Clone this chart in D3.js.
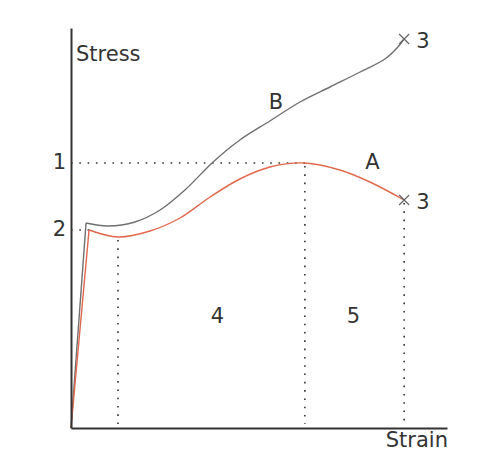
<!DOCTYPE html>
<html>
<head>
<meta charset="utf-8">
<script src="https://cdn.jsdelivr.net/npm/d3@7"></script>
<style>
  html, body { margin: 0; padding: 0; background: #fff; }
  svg text { font-family: "DejaVu Sans", sans-serif; fill: #333; }
</style>
</head>
<body>
<svg id="chart" width="482" height="466"></svg>
<script>
// Curve A (engineering stress: yield drop, hardening, necking) — [strain, stress], normalised units
const curveA = [
  [0, 0], [4.8, 49.5], [12.5, 47.75], [21.0, 49.25], [29.0, 52.5], [37.0, 57.75],
  [44.9, 62.25], [52.9, 65.25], [62.2, 66.25], [71.5, 64.5], [79.5, 61.5], [88.6, 57]
];
// Curve B (true stress)
const curveB = [
  [0, 0], [4.0, 51.25], [9.8, 50.5], [17.0, 51.5], [23.7, 54.5], [30.3, 59.5],
  [37.8, 66.5], [44.9, 72], [52.9, 76.75], [60.9, 81.5], [68.9, 85.25],
  [76.9, 89], [83.5, 92.25], [86.7, 95], [88.6, 97.25]
];
const yTickLabels = ["1", "2"];          // 1 = ultimate strength, 2 = yield strength
const endLabel = "3";                    // fracture
const regionLabels = ["4", "5"];         // strain hardening, necking
const seriesLabels = ["A", "B"];
const axisTitles = ["Stress", "Strain"];

const svg = d3.select("#chart");
const x = d3.scaleLinear().domain([0, 100]).range([71, 447]);
const y = d3.scaleLinear().domain([0, 100]).range([428, 28]);

const yieldPt = curveA[1];
const lowerYield = curveA[2];
const uts = curveA.reduce((a, b) => (b[1] > a[1] ? b : a));
const fracA = curveA[curveA.length - 1];
const fracB = curveB[curveB.length - 1];

// dotted guide lines
const dotted = svg.append("g")
  .attr("fill", "none").attr("stroke", "#333").attr("stroke-width", 1.6)
  .attr("stroke-dasharray", "1.6,6.7").attr("stroke-linecap", "butt");
dotted.append("line").attr("x1", x(0)).attr("x2", x(uts[0])).attr("y1", y(uts[1])).attr("y2", y(uts[1]));
dotted.append("line").attr("x1", x(0)).attr("x2", x(yieldPt[0])).attr("y1", y(yieldPt[1])).attr("y2", y(yieldPt[1]));
[lowerYield, uts, fracA].forEach(p => {
  dotted.append("line").attr("x1", x(p[0])).attr("x2", x(p[0]))
    .attr("y1", y(p[1]) + 3).attr("y2", y(0) - 4);
});

// curves: straight elastic part + smooth plastic part
function drawCurve(data, color) {
  svg.append("path").datum(data.slice(0, 2))
    .attr("fill", "none").attr("stroke", color).attr("stroke-width", 1.4)
    .attr("d", d3.line().x(d => x(d[0])).y(d => y(d[1])));
  svg.append("path").datum(data.slice(1))
    .attr("fill", "none").attr("stroke", color).attr("stroke-width", 1.4)
    .attr("d", d3.line().x(d => x(d[0])).y(d => y(d[1])).curve(d3.curveCatmullRom.alpha(0.5)));
}
drawCurve(curveB, "#6f6f6f");
drawCurve(curveA, "#e0684c");

// fracture crosses
[fracA, fracB].forEach(p => {
  const cx = x(p[0]), cy = y(p[1]), s = 5;
  svg.append("path")
    .attr("d", `M${cx - s},${cy - s}L${cx + s},${cy + s}M${cx - s},${cy + s}L${cx + s},${cy - s}`)
    .attr("stroke", "#666").attr("stroke-width", 1.2).attr("fill", "none");
  svg.append("text").attr("x", cx + 12).attr("y", cy + 2)
    .attr("dominant-baseline", "central").attr("font-size", 21).text(endLabel);
});

// axes
const yAxis = d3.axisLeft(y).tickValues([uts[1], yieldPt[1]])
  .tickFormat((d, i) => yTickLabels[i]).tickSize(0).tickPadding(5);
const gy = svg.append("g").attr("transform", `translate(${x(0)},0)`).call(yAxis);
gy.select(".domain").attr("stroke", "#333").attr("stroke-width", 2);
gy.selectAll(".tick text").attr("font-size", 21).attr("font-family", "DejaVu Sans, sans-serif")
  .attr("fill", "#333").attr("dy", "0.28em");

const xAxis = d3.axisBottom(x).tickValues([]).tickSize(0);
const gx = svg.append("g").attr("transform", `translate(0,${y(0)})`).call(xAxis);
gx.select(".domain").attr("stroke", "#333").attr("stroke-width", 2);

// titles
svg.append("text").attr("x", 76).attr("y", 61).attr("font-size", 21).text(axisTitles[0]);
svg.append("text").attr("x", 448).attr("y", 447).attr("text-anchor", "end").attr("font-size", 21).text(axisTitles[1]);

// series labels
svg.append("text").attr("x", x(80.2)).attr("y", y(66.5)).attr("text-anchor", "middle")
  .attr("dominant-baseline", "central").attr("font-size", 21).text(seriesLabels[0]);
svg.append("text").attr("x", x(54.5)).attr("y", y(81.5)).attr("text-anchor", "middle")
  .attr("dominant-baseline", "central").attr("font-size", 21).text(seriesLabels[1]);

// region labels
svg.append("text").attr("x", x((lowerYield[0] + uts[0]) / 2) + 6).attr("y", y(28)).attr("text-anchor", "middle")
  .attr("dominant-baseline", "central").attr("font-size", 21).text(regionLabels[0]);
svg.append("text").attr("x", x((uts[0] + fracA[0]) / 2) - 1).attr("y", y(28)).attr("text-anchor", "middle")
  .attr("dominant-baseline", "central").attr("font-size", 21).text(regionLabels[1]);
</script>
</body>
</html>
